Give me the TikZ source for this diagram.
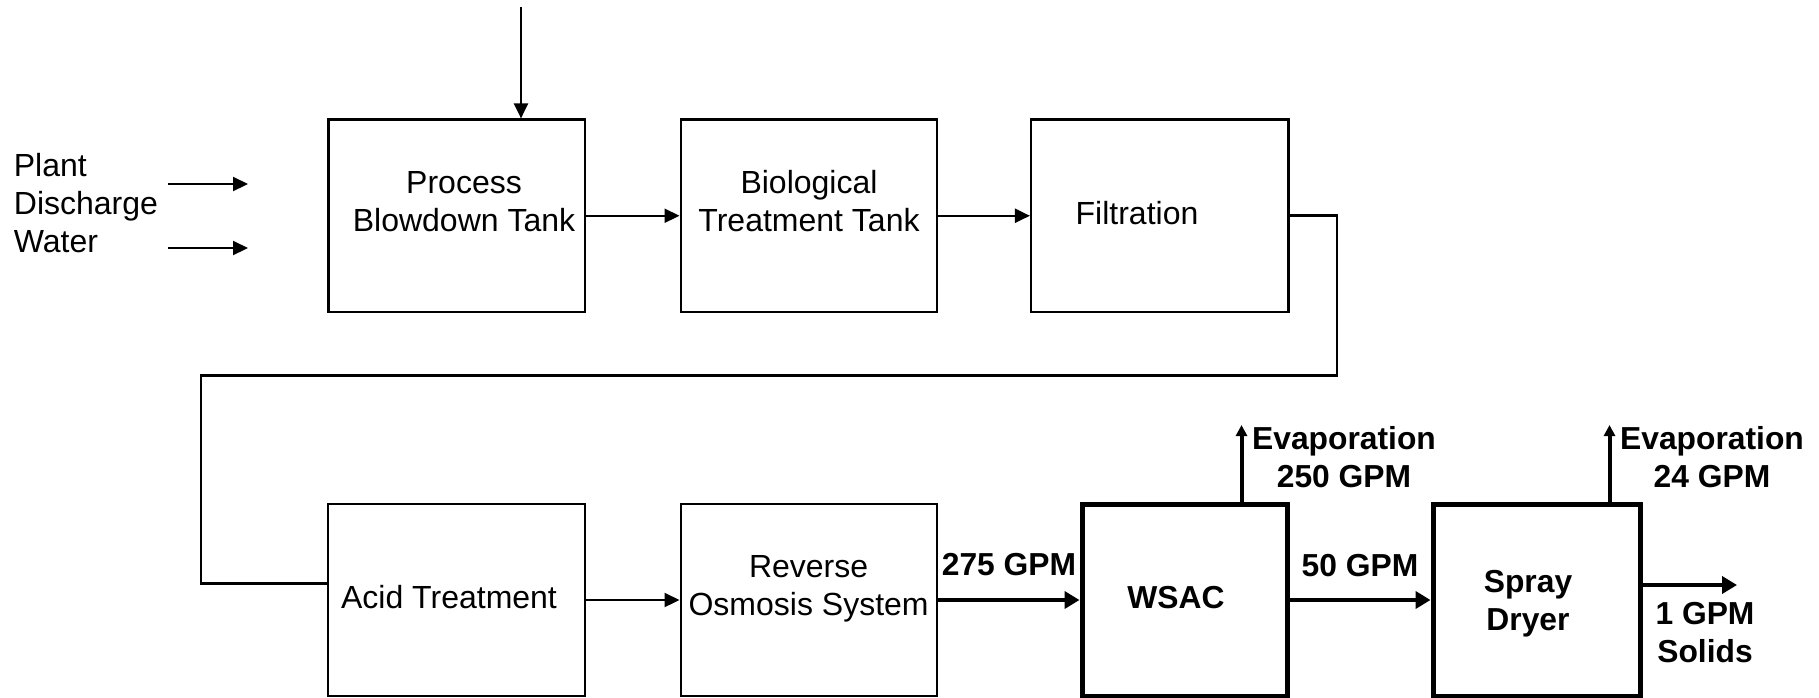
\documentclass[tikz,border=0pt]{standalone}
\usepackage{fontspec}
\setmainfont{Liberation Sans}
\usetikzlibrary{arrows.meta}
\begin{document}
\begin{tikzpicture}[x=0.5pt,y=-0.5pt,
  box/.style={draw, line width=1.1pt, inner sep=0pt, minimum height=96.25pt},
  tbox/.style={draw, line width=2.5pt, inner sep=0pt, minimum height=96pt},
  txt/.style={inner sep=0pt, align=center, anchor=base, font=\fontsize{16}{19}\selectfont},
  btxt/.style={txt, font=\fontsize{15.9}{19}\selectfont\bfseries},
  arr/.style={line width=1.1pt, -{Triangle[length=7.5pt,width=7pt]}},
  tarr/.style={line width=2.2pt, -{Triangle[length=7.5pt,width=8.5pt]}},
  earr/.style={line width=2pt, -{Triangle[length=5.5pt,width=5.5pt]}},
  plain/.style={line width=1.3pt}
]
\useasboundingbox (0,0) rectangle (1819,697);

% boxes
\node[box, minimum width=128.25pt] (P) at (456.75,215.75) {};
\node[box, minimum width=128pt] (B) at (808.6,215.75) {};
\node[box, minimum width=128.75pt] (F) at (1159.75,215.75) {};
\node[box, minimum width=128.5pt, minimum height=96pt] (A) at (456.5,600) {};
\node[box, minimum width=128pt, minimum height=96pt] (R) at (808.6,600) {};
\node[tbox, minimum width=102.75pt] (W) at (1184.75,600) {};
\node[tbox, minimum width=103.75pt] (S) at (1536.75,600) {};

% texts (multi-line nodes: base = last line baseline)
\node[txt, anchor=base west, align=left] (plant) at (13.5,252) {Plant\\Discharge\\Water};
\node[txt] (ptxt) at (464,231) {Process\\Blowdown Tank};
\node[txt] (bt) at (809,231) {Biological\\Treatment Tank};
\node[txt] (ft) at (1137,224) {Filtration};
\node[txt] (at) at (449,608) {Acid Treatment};
\node[txt] (rt) at (808.6,615) {Reverse\\Osmosis System};
\node[btxt] (l275) at (1009,575) {275 GPM};
\node[btxt] (wt) at (1176,608) {WSAC};
\node[btxt] (ev1t) at (1344,487) {Evaporation\\250 GPM};
\node[btxt] (l50) at (1360,576) {50 GPM};
\node[btxt] (st) at (1528,630) {Spray\\Dryer};
\node[btxt] (ev2t) at (1712,487) {Evaporation\\24 GPM};
\node[btxt] (solt) at (1705,662) {1 GPM\\Solids};

% coordinates
\coordinate (topin) at (521,7);
\coordinate (pa1s) at (168,184);
\coordinate (pa1e) at (248,184);
\coordinate (pa2s) at (168,248);
\coordinate (pa2e) at (248,248);
\coordinate (c1) at (1337,375.5);
\coordinate (c2) at (201,375.5);
\coordinate (ev1) at (1241.5,425);
\coordinate (ev2) at (1609.5,425);
\coordinate (sol) at (1737,585);

% connectors
\draw[arr] (topin) -- (topin |- P.north);
\draw[arr] (pa1s) -- (pa1e);
\draw[arr] (pa2s) -- (pa2e);
\draw[arr] (P.east) -- (B.west);
\draw[arr] (B.east) -- (F.west);
\draw[plain] (F.east) -| (c1) -- (c2) |- ([yshift=8.25pt]A.west);
\draw[arr] (A.east) -- (R.west);
\draw[tarr] (R.east) -- (W.west);
\draw[tarr] (W.east) -- (S.west);
\draw[earr] (ev1 |- W.north) -- (ev1);
\draw[earr] (ev2 |- S.north) -- (ev2);
\draw[tarr] (S.east |- sol) -- (sol);
\end{tikzpicture}
\end{document}
